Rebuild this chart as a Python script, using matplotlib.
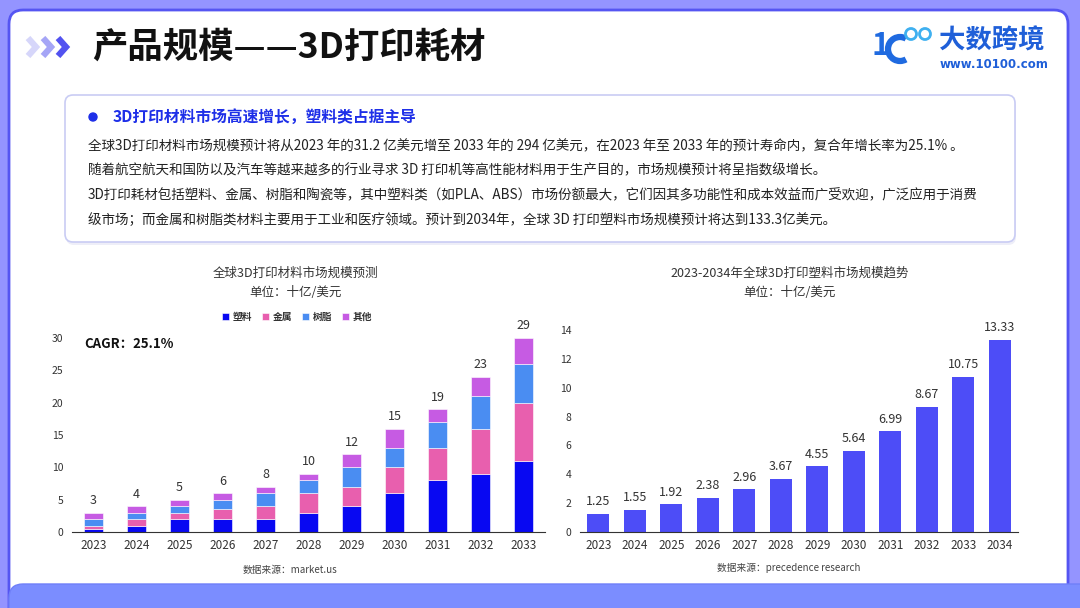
import matplotlib
matplotlib.use("Agg")
import matplotlib.pyplot as plt
from matplotlib.patches import FancyBboxPatch, Circle, Arc

plt.rcParams['font.family'] = ['Noto Sans CJK SC', 'DejaVu Sans']

# ---- data ----
years_left = ['2023', '2024', '2025', '2026', '2027', '2028', '2029', '2030', '2031', '2032', '2033']
plastic = [0.5, 1, 2, 2, 2, 3, 4, 6, 8, 9, 11]
metal = [0.5, 1, 1, 1.5, 2, 3, 3, 4, 5, 7, 9]
resin = [1, 1, 1, 1.5, 2, 2, 3, 3, 4, 5, 6]
other = [1, 1, 1, 1, 1, 1, 2, 3, 2, 3, 4]
total_labels = [3, 4, 5, 6, 8, 10, 12, 15, 19, 23, 29]
series_names = ['塑料', '金属', '树脂', '其他']

years_right = ['2023', '2024', '2025', '2026', '2027', '2028', '2029', '2030', '2031', '2032', '2033', '2034']
plastic_market = [1.25, 1.55, 1.92, 2.38, 2.96, 3.67, 4.55, 5.64, 6.99, 8.67, 10.75, 13.33]

body_lines = [
    "全球3D打印材料市场规模预计将从2023 年的31.2 亿美元增至 2033 年的 294 亿美元，在2023 年至 2033 年的预计寿命内，复合年增长率为25.1% 。",
    "随着航空航天和国防以及汽车等越来越多的行业寻求 3D 打印机等高性能材料用于生产目的，市场规模预计将呈指数级增长。",
    "3D打印耗材包括塑料、金属、树脂和陶瓷等，其中塑料类（如PLA、ABS）市场份额最大，它们因其多功能性和成本效益而广受欢迎，广泛应用于消费",
    "级市场；而金属和树脂类材料主要用于工业和医疗领域。预计到2034年，全球 3D 打印塑料市场规模预计将达到133.3亿美元。",
]

W, H = 1080, 608
fig = plt.figure(figsize=(W / 100, H / 100), dpi=100)
fig.patch.set_facecolor('#9494FF')

# background layer in pixel coordinates
bg = fig.add_axes([0, 0, 1, 1])
bg.set_xlim(0, W)
bg.set_ylim(H, 0)
bg.axis('off')
bg.set_zorder(0)

card = FancyBboxPatch((9, 10), 1059, 640, boxstyle="round,pad=0,rounding_size=14",
                      facecolor='white', edgecolor='#5555F2', lw=2)
bg.add_patch(card)
band = FancyBboxPatch((9, 584), 1090, 60, boxstyle="round,pad=0,rounding_size=14",
                      facecolor='#7B8DFF', edgecolor='#6F7FF8', lw=1)
bg.add_patch(band)

# chevrons
chev_cols = ['#D6D6FA', '#A5A5F6', '#5252F0']
for i, c in enumerate(chev_cols):
    x0 = 28 + i * 15
    bg.plot([x0, x0 + 8, x0], [38, 47, 56], color=c, lw=4.5, solid_capstyle='butt',
            solid_joinstyle='miter')

bg.text(92, 47, "产品规模——3D打印耗材", fontsize=25.5, fontweight='bold',
        color='#111111', va='center', ha='left')

# logo
bg.text(872, 46, "1", fontsize=22, fontweight='bold', color='#1F6AE0', va='center', ha='left')
bg.add_patch(Arc((900, 49), 24, 24, theta1=60, theta2=300, lw=4.5, color='#1F6AE0'))
bg.add_patch(Circle((911, 34), 5.5, fill=False, lw=2, edgecolor='#3FB0F0'))
bg.add_patch(Circle((925, 34), 5.5, fill=False, lw=2, edgecolor='#3FB0F0'))
bg.text(939, 41, "大数跨境", fontsize=19, fontweight='bold', color='#1F5FD8', va='center', ha='left')
bg.text(940, 65, "www.10100.com", fontsize=8.5, fontweight='bold', color='#1F5FD8',
        va='center', ha='left', family=['DejaVu Sans'])

# text box
shadow = FancyBboxPatch((66, 98), 950, 147, boxstyle="round,pad=0,rounding_size=8",
                        facecolor='#EEEEF8', edgecolor='none')
bg.add_patch(shadow)
box = FancyBboxPatch((65, 95), 950, 147, boxstyle="round,pad=0,rounding_size=8",
                     facecolor='white', edgecolor='#C9CCF4', lw=1.2)
bg.add_patch(box)
bg.add_patch(Circle((93, 117), 4, color='#1E2FE8'))
bg.text(113, 117, "3D打印材料市场高速增长，塑料类占据主导", fontsize=11.3, fontweight='bold',
        color='#1E2FE8', va='center', ha='left')
for i, line in enumerate(body_lines):
    bg.text(88, 146 + i * 24.7, line, fontsize=9.75, color='#222222', va='center', ha='left')

# ---- left chart ----
def frac(x0, y_top, x1, y_bot):
    return [x0 / W, (H - y_bot) / H, (x1 - x0) / W, (y_bot - y_top) / H]

ax1 = fig.add_axes(frac(72, 338, 545, 532))
ax1.set_facecolor('none')
cols = ['#0808F2', '#E85FAE', '#4A8DF2', '#C65BE3']
x = range(len(years_left))
bottom = [0] * len(years_left)
for vals, c, name in zip([plastic, metal, resin, other], cols, series_names):
    ax1.bar(x, vals, 0.44, bottom=bottom, color=c, edgecolor='white', linewidth=0.4, label=name)
    bottom = [b + v for b, v in zip(bottom, vals)]
for xi, top, lab in zip(x, bottom, total_labels):
    ax1.annotate(str(lab), (xi, top), xytext=(0, 4), textcoords='offset points',
                 ha='center', va='bottom', fontsize=9, color='#333333')
ax1.set_xlim(-0.5, len(years_left) - 0.5)
ax1.set_ylim(0, 30)
ax1.set_yticks([0, 5, 10, 15, 20, 25, 30])
ax1.set_xticks(list(x))
ax1.set_xticklabels(years_left)
for s in ['top', 'right', 'left']:
    ax1.spines[s].set_visible(False)
ax1.spines['bottom'].set_color('#333333')
ax1.tick_params(axis='y', length=0, pad=6, labelsize=7.5, labelcolor='#333333')
ax1.tick_params(axis='x', length=0, pad=5, labelsize=8.5, labelcolor='#333333')
leg = ax1.legend(loc='center', bbox_to_anchor=(297 / W, 1 - 317 / H), bbox_transform=fig.transFigure,
                 ncol=4, frameon=False, fontsize=7, handlelength=0.7, handleheight=0.7,
                 columnspacing=1.0, handletextpad=0.4)
for t in leg.get_texts():
    t.set_fontweight('bold')
    t.set_color('#333333')

bg.text(295, 273, "全球3D打印材料市场规模预测", fontsize=9, color='#333333', ha='center', va='center')
bg.text(295, 292, "单位：十亿/美元", fontsize=9, color='#333333', ha='center', va='center')
bg.text(84, 344, "CAGR：25.1%", fontsize=9.5, fontweight='bold', color='#111111', ha='left', va='center')
bg.text(290, 570, "数据来源：market.us", fontsize=7, color='#444444', ha='center', va='center')

# ---- right chart ----
ax2 = fig.add_axes(frac(580, 330, 1018, 532))
ax2.set_facecolor('none')
x2 = range(len(years_right))
ax2.bar(x2, plastic_market, 0.6, color='#4D4DF7')
for xi, v in zip(x2, plastic_market):
    ax2.annotate(f"{v:.2f}", (xi, v), xytext=(0, 4), textcoords='offset points',
                 ha='center', va='bottom', fontsize=9, color='#333333')
ax2.set_xlim(-0.5, len(years_right) - 0.5)
ax2.set_ylim(0, 14)
ax2.set_yticks(range(0, 15, 2))
ax2.set_xticks(list(x2))
ax2.set_xticklabels(years_right)
for s in ['top', 'right', 'left']:
    ax2.spines[s].set_visible(False)
ax2.spines['bottom'].set_color('#333333')
ax2.tick_params(axis='y', length=0, pad=6, labelsize=7.5, labelcolor='#333333')
ax2.tick_params(axis='x', length=0, pad=5, labelsize=8.5, labelcolor='#333333')

bg.text(790, 273, "2023-2034年全球3D打印塑料市场规模趋势", fontsize=9, color='#333333', ha='center', va='center')
bg.text(790, 292, "单位：十亿/美元", fontsize=9, color='#333333', ha='center', va='center')
bg.text(789, 568, "数据来源：precedence research", fontsize=7, color='#444444', ha='center', va='center')

fig.savefig("out.png", dpi=100)
